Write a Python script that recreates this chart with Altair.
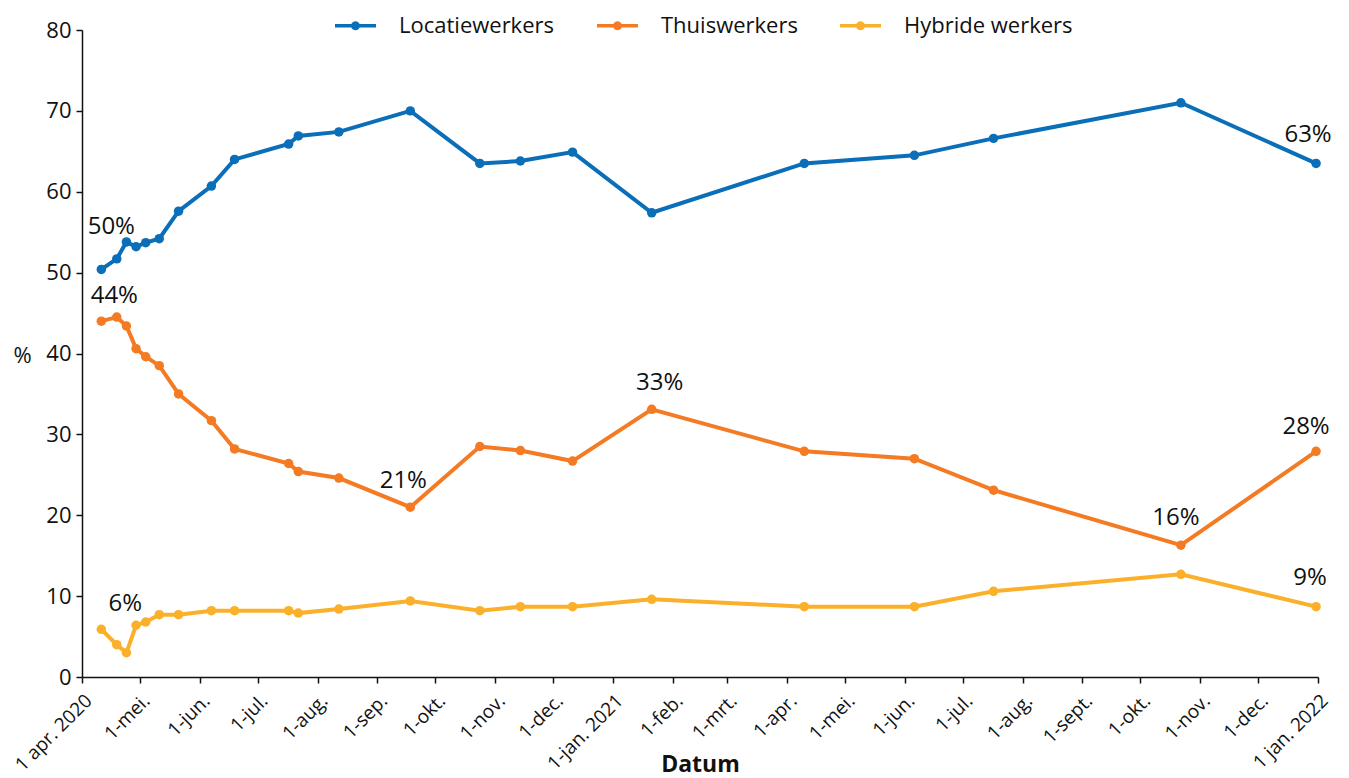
import altair as alt
import pandas as pd

# ---- data ----
dates = ["2020-04-11", "2020-04-19", "2020-04-24", "2020-04-29", "2020-05-04",
         "2020-05-11", "2020-05-21", "2020-06-07", "2020-06-19", "2020-07-17",
         "2020-07-22", "2020-08-12", "2020-09-18", "2020-10-24", "2020-11-14",
         "2020-12-11", "2021-01-21", "2021-04-10", "2021-06-06", "2021-07-17",
         "2021-10-22", "2021-12-31"]
locatie = [50.4, 51.7, 53.8, 53.2, 53.7, 54.2, 57.6, 60.7, 64.0, 65.9, 66.9,
           67.4, 70.0, 63.5, 63.8, 64.9, 57.4, 63.5, 64.5, 66.6, 71.0, 63.5]
thuis = [44.0, 44.5, 43.4, 40.6, 39.6, 38.5, 35.0, 31.7, 28.2, 26.4, 25.4,
         24.6, 21.0, 28.5, 28.0, 26.7, 33.1, 27.9, 27.0, 23.1, 16.3, 27.9]
hybride = [5.9, 4.0, 3.0, 6.4, 6.8, 7.7, 7.7, 8.2, 8.2, 8.2, 7.9,
           8.4, 9.4, 8.2, 8.7, 8.7, 9.6, 8.7, 8.7, 10.6, 12.7, 8.7]
series = ["Locatiewerkers", "Thuiswerkers", "Hybride werkers"]
colors = ["#0a6fb8", "#f47a23", "#fbb02b"]

tick_labels = ["1 apr. 2020", "1-mei.", "1-jun.", "1-jul.", "1-aug.", "1-sep.",
               "1-okt.", "1-nov.", "1-dec.", "1-jan. 2021", "1-feb.", "1-mrt.",
               "1-apr.", "1-mei.", "1-jun.", "1-jul.", "1-aug.", "1-sept.",
               "1-okt.", "1-nov.", "1-dec.", "1 jan. 2022"]

ann_series = ["Locatiewerkers", "Thuiswerkers", "Hybride werkers", "Thuiswerkers",
              "Thuiswerkers", "Thuiswerkers", "Thuiswerkers", "Locatiewerkers",
              "Hybride werkers"]
ann_dates = ["2020-04-11", "2020-04-11", "2020-04-11", "2020-09-18", "2021-01-21",
             "2021-10-22", "2021-12-31", "2021-12-31", "2021-12-31"]
ann_text = ["50%", "44%", "6%", "21%", "33%", "16%", "28%", "63%", "9%"]
# label offsets (styling)
ann_offsets = [(10, -42), (13, -25), (24, -25), (-7, -26), (8, -26),
               (-5, -27), (-10, -24), (-8, -28), (-6, -29)]

FONT = "Open Sans"
INK = "#111111"

values_by_series = {"Locatiewerkers": locatie, "Thuiswerkers": thuis,
                    "Hybride werkers": hybride}
rows = []
for s in series:
    for d, v in zip(dates, values_by_series[s]):
        rows.append({"date": d, "value": v, "series": s})
df = pd.DataFrame(rows)

# tick values: first of each month
tick_values = []
y, m = 2020, 4
for _ in range(len(tick_labels)):
    tick_values.append(alt.DateTime(year=y, month=m, date=1, utc=True))
    m += 1
    if m > 12:
        m = 1
        y += 1

label_array = "[" + ",".join("'" + t + "'" for t in tick_labels) + "]"
label_expr = label_array + "[(utcyear(datum.value)-2020)*12 + utcmonth(datum.value) - 3]"

x_enc = alt.X(
    "date:T",
    scale=alt.Scale(type="utc",
                    domain=[alt.DateTime(year=2020, month=4, date=1, utc=True),
                            alt.DateTime(year=2022, month=1, date=1, utc=True)]),
    axis=alt.Axis(values=tick_values, labelExpr=label_expr, labelAngle=-45,
                  labelAlign="right", labelBaseline="top", labelPadding=8,
                  labelFontSize=19, labelColor=INK, labelFont=FONT,
                  tickSize=6, tickWidth=1.5, tickColor=INK, domainColor=INK,
                  domainWidth=1.5, grid=False, labelOverlap=False, labelFlush=False,
                  title="Datum", titleFontSize=23, titleFontWeight="bold",
                  titleColor=INK, titleFont=FONT, titleY=94,
                  titleBaseline="alphabetic"),
)
y_enc = alt.Y(
    "value:Q",
    scale=alt.Scale(domain=[0, 80], nice=False, zero=True),
    axis=alt.Axis(values=list(range(0, 81, 10)), labelFontSize=22, labelColor=INK,
                  labelFont=FONT, labelPadding=5, tickSize=6, tickWidth=1.5,
                  tickColor=INK, domainColor=INK, domainWidth=1.5, grid=False,
                  title="%", titleAngle=0, titleFontSize=22, titleFontWeight="normal",
                  titleColor=INK, titleFont=FONT, titleX=-60, titleY=325,
                  titleAlign="center", titleBaseline="middle"),
)

legend_path = ("M-1,-0.085 L-0.203,-0.085 A0.22,0.22 0 0,1 0.203,-0.085 L1,-0.085 "
               "L1,0.085 L0.203,0.085 A0.22,0.22 0 0,1 -0.203,0.085 L-1,0.085 Z")

color_scale = alt.Scale(domain=series, range=colors)

legend = alt.Legend(orient="none", legendX=253, legendY=-25,
                    direction="horizontal", title=None,
                    symbolType=legend_path, symbolSize=1681,
                    symbolStrokeWidth=0, symbolOpacity=1,
                    labelFontSize=22, labelFont=FONT, labelLimit=400,
                    labelColor=INK, labelOffset=23,
                    columnPadding=42, padding=0)

points = alt.Chart(df).mark_circle(size=90, opacity=1).encode(
    x=x_enc, y=y_enc,
    color=alt.Color("series:N", scale=color_scale, sort=series, legend=legend),
)
lines = alt.Chart(df).mark_line(strokeWidth=4).encode(
    x="date:T", y="value:Q",
    color=alt.Color("series:N", scale=color_scale, sort=series, legend=legend),
)

layers = [points, lines]
for s, d, t, (dx, dy) in zip(ann_series, ann_dates, ann_text, ann_offsets):
    v = values_by_series[s][dates.index(d)]
    adf = pd.DataFrame({"date": [d], "value": [v], "label": [t]})
    layers.append(
        alt.Chart(adf).mark_text(dx=dx, dy=dy, fontSize=24, font=FONT,
                                 color=INK, align="center", baseline="middle")
        .encode(x="date:T", y="value:Q", text="label:N")
    )

chart = (
    alt.layer(*layers)
    .properties(
        width=1236, height=647,
        autosize=alt.AutoSizeParams(type="none"),
        padding={"left": 74, "top": 22, "right": 15, "bottom": 100},
    )
    .configure(font=FONT)
    .configure_view(stroke=None, strokeWidth=0)
    .configure_axis(grid=False)
)

chart.save("out.html", embed_options={"renderer": "svg", "actions": False})
